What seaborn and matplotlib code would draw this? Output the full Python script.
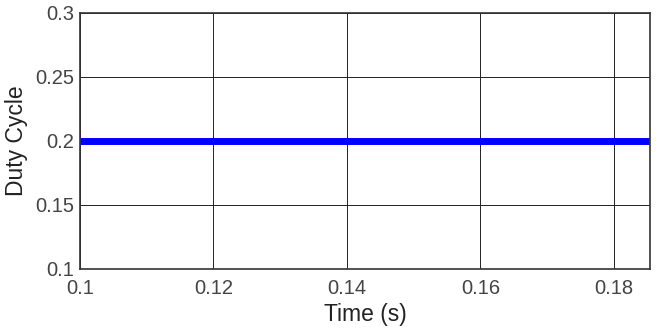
import matplotlib
matplotlib.use("Agg")
import matplotlib.pyplot as plt
import seaborn as sns
import pandas as pd

time_s = [0.1, 0.1854]
duty_cycle = [0.2, 0.2]
x_ticks = [0.1, 0.12, 0.14, 0.16, 0.18]
x_tick_labels = ["0.1", "0.12", "0.14", "0.16", "0.18"]
y_ticks = [0.1, 0.15, 0.2, 0.25, 0.3]
y_tick_labels = ["0.1", "0.15", "0.2", "0.25", "0.3"]

sns.set_theme(style="white")
plt.rcParams['font.family'] = ['Liberation Sans', 'DejaVu Sans']

df = pd.DataFrame({"Time (s)": time_s, "Duty Cycle": duty_cycle})

fig = plt.figure(figsize=(6.62, 3.35), dpi=100)
ax = fig.add_axes([80/662, 1-269/335, 570/662, 256/335])
sns.lineplot(data=df, x="Time (s)", y="Duty Cycle", ax=ax, color="#0000ff", linewidth=5.0)

ax.set_xlim(0.1, 0.1854)
ax.set_ylim(0.1, 0.3)
ax.set_xticks(x_ticks)
ax.set_xticklabels(x_tick_labels)
ax.set_yticks(y_ticks)
ax.set_yticklabels(y_tick_labels)
ax.grid(True, color="#222222", linewidth=0.7, linestyle="-")
ax.set_axisbelow(True)
for s in ax.spines.values():
    s.set_color("#333333")
    s.set_linewidth(1.2)
    s.set_visible(True)
ax.tick_params(axis="both", labelsize=14.5, colors="#333333", length=0)
ax.tick_params(axis="x", pad=7.5)
ax.tick_params(axis="y", pad=4)
for lab in ax.get_xticklabels() + ax.get_yticklabels():
    lab.set_color("#444444")
ax.set_xlabel("Time (s)", fontsize=16.5, color="#222222", labelpad=3)
ax.set_ylabel("Duty Cycle", fontsize=16.5, color="#222222", labelpad=5)

fig.savefig("out.png", dpi=100)
